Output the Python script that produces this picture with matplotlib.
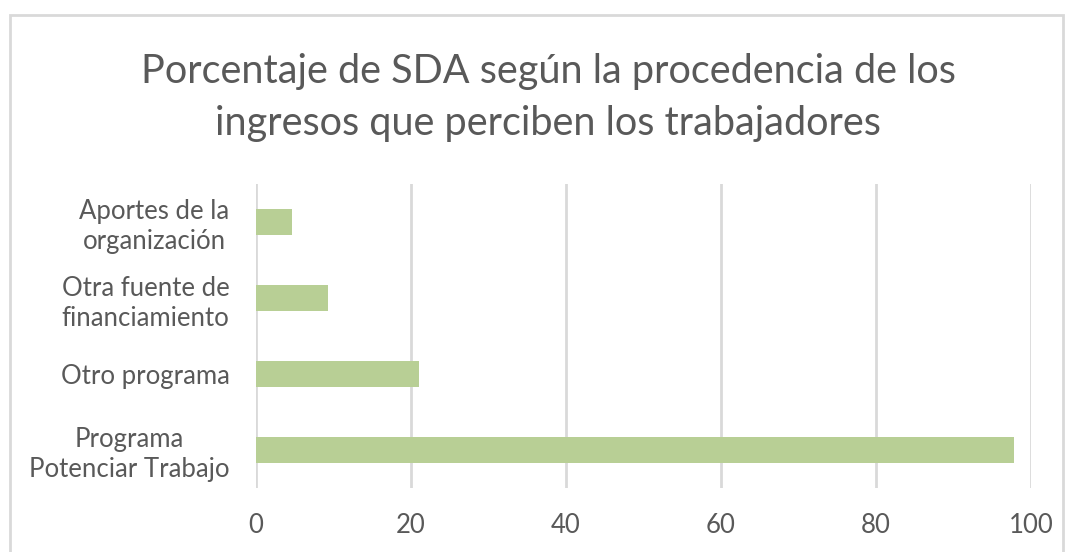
import matplotlib.pyplot as plt
from matplotlib.patches import Rectangle

plt.rcParams['font.family'] = ['Lato', 'DejaVu Sans']

categorias = ['Programa\nPotenciar Trabajo', 'Otro programa',
              'Otra fuente de\nfinanciamiento', 'Aportes de la\norganización']
valores = [97.8, 21.0, 9.3, 4.7]
ticks = [0, 20, 40, 60, 80, 100]

gris = '#595959'
fig = plt.figure(figsize=(10.75, 5.52), dpi=100)
ax = fig.add_axes([256 / 1075, 1 - 488 / 552, (1031 - 256) / 1075, (488 - 184) / 552])

ax.barh(range(len(categorias)), valores, height=0.34, color='#B8CF95', zorder=3)
ax.set_xlim(0, 100)
ax.set_ylim(-0.5, len(categorias) - 0.5)
ax.set_xticks(ticks)
ax.set_yticks(range(len(categorias)))
ax.set_yticklabels(categorias, fontsize=18.5, color=gris, multialignment='center',
                   linespacing=1.25)
ax.tick_params(axis='x', labelsize=18.5, labelcolor=gris, length=0, pad=18)
ax.tick_params(axis='y', length=0, pad=19)
ax.grid(axis='x', color='#D9D9D9', linewidth=2, zorder=0)
for s in ax.spines.values():
    s.set_visible(False)

fig.text(548 / 1075, 1 - 98 / 552,
         'Porcentaje de SDA según la procedencia de los\ningresos que perciben los trabajadores',
         ha='center', va='center', fontsize=28.5, color=gris, linespacing=1.5)

fig.patches.append(Rectangle((10 / 1075, -0.1), (1063 - 10) / 1075, 1.1 - 15 / 552,
                             transform=fig.transFigure, fill=False,
                             edgecolor='#D9D9D9', linewidth=2))

fig.savefig('out.png', dpi=100)
